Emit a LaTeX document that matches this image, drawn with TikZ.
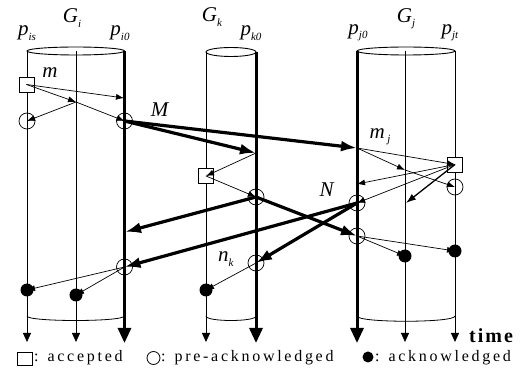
\documentclass[tikz,border=0pt]{standalone}
\usepackage{fontspec}
\setmainfont{Liberation Serif}
\newfontfamily\legfont[LetterSpace=17]{Liberation Serif}
\newfontfamily\timefont[LetterSpace=10]{Liberation Serif}
\usetikzlibrary{arrows.meta}
\newcommand\plab[2]{\textit{#1}\raisebox{-0.45ex}{\fontsize{11}{11}\selectfont\textit{#2}}}
\begin{document}
\begin{tikzpicture}[x=1pt,y=-1pt,
  thinproc/.style={line width=0.8pt},
  thickproc/.style={line width=3pt},
  thinend/.style={-{Triangle[length=9pt,width=8pt]}},
  thickend/.style={-{Triangle[length=15pt,width=13pt]}},
  thinarr/.style={line width=0.7pt,-{Latex[length=8pt,width=6pt]}},
  medarr/.style={line width=1.3pt,-{Latex[length=10pt,width=7pt]}},
  thickarr/.style={line width=3.2pt,-{Latex[length=16pt,width=11pt]}},
  acc/.style={draw,fill=white,line width=0.8pt,minimum width=15pt,minimum height=15pt,inner sep=0pt},
  pre/.style={draw,circle,line width=0.7pt,minimum size=16pt,inner sep=0pt},
  ack/.style={fill,circle,minimum size=13pt,inner sep=0pt},
  lab/.style={font=\fontsize{21}{21}\selectfont,inner sep=0pt},
  leg/.style={font=\fontsize{16}{16}\selectfont\legfont,inner sep=0pt,anchor=base west}
]
\useasboundingbox (0,0) rectangle (523,374);
% process line end points
\coordinate (is-t) at (27,51);   \coordinate (is-b) at (27,342);
\coordinate (gi-t) at (76,51);   \coordinate (gi-b) at (76,342);
\coordinate (i0-t) at (124.5,51); \coordinate (i0-b) at (124.5,343);
\coordinate (kl-t) at (206,52);  \coordinate (kl-b) at (206,342);
\coordinate (k0-t) at (256,52);  \coordinate (k0-b) at (256,343);
\coordinate (j0-t) at (357,51);  \coordinate (j0-b) at (357,343);
\coordinate (gj-t) at (405,51);  \coordinate (gj-b) at (405,342);
\coordinate (jt-t) at (455,51);  \coordinate (jt-b) at (455,342);
% cylinders
\draw[line width=0.9pt] (75.75,51) ellipse [x radius=48.75pt, y radius=4pt];
\draw[line width=0.9pt] (231,52) ellipse [x radius=25pt, y radius=4.5pt];
\draw[line width=0.9pt] (406,51) ellipse [x radius=49pt, y radius=4pt];
\draw[line width=0.8pt] (27,316) .. controls (27,322) and (124,322) .. (124,316);
\draw[line width=0.8pt] (206,316) .. controls (206,322) and (256,322) .. (256,316);
\draw[line width=0.8pt] (357,316) .. controls (357,323) and (455,323) .. (455,316);
\draw[thinproc,thinend] (is-t) -- (is-b);
\draw[thinproc,thinend] (gi-t) -- (gi-b);
\draw[thickproc,thickend] (i0-t) -- (i0-b);
\draw[thinproc,thinend] (kl-t) -- (kl-b);
\draw[thickproc,thickend] (k0-t) -- (k0-b);
\draw[thickproc,thickend] (j0-t) -- (j0-b);
\draw[thinproc,thinend] (gj-t) -- (gj-b);
\draw[thinproc,thinend] (jt-t) -- (jt-b);
% labels
\node[lab] (l-pis) at (27,33) {\plab{p}{is}};
\node[lab] (l-gi) at (72,18) {\plab{G}{i}};
\node[lab] (l-pi0) at (120,33) {\plab{p}{i0}};
\node[lab] (l-gk) at (212,17) {\plab{G}{k}};
\node[lab] (l-pk0) at (251,33) {\plab{p}{k0}};
\node[lab] (l-pj0) at (358,33) {\plab{p}{j0}};
\node[lab] (l-gj) at (406,19) {\plab{G}{j}};
\node[lab] (l-pjt) at (450,33) {\plab{p}{jt}};
\node[lab] (l-m) at (50,73) {\textit{m}};
\node[lab] (l-M) at (160,110) {\textit{M}};
\node[lab] (l-mj) at (380,137) {\plab{m}{ j}};
\node[lab] (l-N) at (327,190) {\textit{N}};
\node[lab] (l-nk) at (226,259) {\plab{n}{k}};
% event points
\node[acc] (sq1) at (26.5,84.5) {};
\node[acc] (sq2) at (206,176) {};
\node[acc] (sq3) at (455,164.5) {};
\coordinate (a1) at (124,98);
\coordinate (b1) at (76,102);
\coordinate (k1) at (256,153);
\coordinate (j1) at (357,148);
\coordinate (b2) at (405,170);
\coordinate (a2) at (357,184);
\coordinate (b3) at (406,203);
\coordinate (a3) at (125,232);
\node[pre] (c1) at (27,121) {};
\node[pre] (c2) at (124.5,121) {};
\node[pre] (c3) at (256,197) {};
\node[pre] (c4) at (455,187) {};
\node[pre] (c5) at (357,203) {};
\node[pre] (c6) at (357,236) {};
\node[pre] (c7) at (124.5,267) {};
\node[pre] (c8) at (256,263) {};
\node[ack] (d1) at (27,290) {};
\node[ack] (d2) at (76,295) {};
\node[ack] (d3) at (206,290) {};
\node[ack] (d4) at (405,256) {};
\node[ack] (d5) at (455,251) {};
% messages
\draw[thinarr] (sq1.center) -- (a1);
\draw[thinarr] (sq1.center) -- (b1);
\draw[thinarr] (b1) -- (c1.center);
\draw[thinarr] (b1) -- (c2.center);
\draw[thickarr] (c2.center) -- (k1);
\draw[thickarr] (c2.center) -- (j1);
\draw[thinarr] (k1) -- (sq2.center);
\draw[thinarr] (sq2.center) -- (c3.center);
\draw[thinarr] (j1) -- (sq3.center);
\draw[thinarr] (j1) -- (b2);
\draw[thinarr] (b2) -- (c4.center);
\draw[thinarr] (sq3.center) -- (a2);
\draw[thinarr] (sq3.center) -- (c5.center);
\draw[medarr] (sq3.center) -- (b3);
\draw[thickarr] (c3.center) -- (a3);
\draw[thickarr] (c3.center) -- (c6.center);
\draw[thickarr] (c5.center) -- (c7.center);
\draw[thickarr] (c5.center) -- (c8.center);
\draw[thinarr] (c7.center) -- (d1.center);
\draw[thinarr] (c7.center) -- (d2.center);
\draw[thinarr] (c8.center) -- (d3.center);
\draw[thinarr] (c6.center) -- (d4.center);
\draw[thinarr] (c6.center) -- (d5.center);
% time and legend
\node[inner sep=0pt,anchor=base west,font=\fontsize{20}{20}\selectfont\timefont\bfseries] (time) at (469,343) {time};
\node[draw,line width=0.8pt,minimum width=15pt,minimum height=13pt,inner sep=0pt] (lg1) at (24.5,358.5) {};
\node[leg] (lt1) at (34,362) {: accepted};
\node[draw,circle,line width=0.8pt,minimum size=13pt,inner sep=0pt] (lg2) at (153.5,358) {};
\node[leg] (lt2) at (161,362) {: pre-acknowledged};
\node[fill,circle,minimum size=11pt,inner sep=0pt] (lg3) at (368,357) {};
\node[leg] (lt3) at (375,362) {: acknowledged};
\end{tikzpicture}
\end{document}
